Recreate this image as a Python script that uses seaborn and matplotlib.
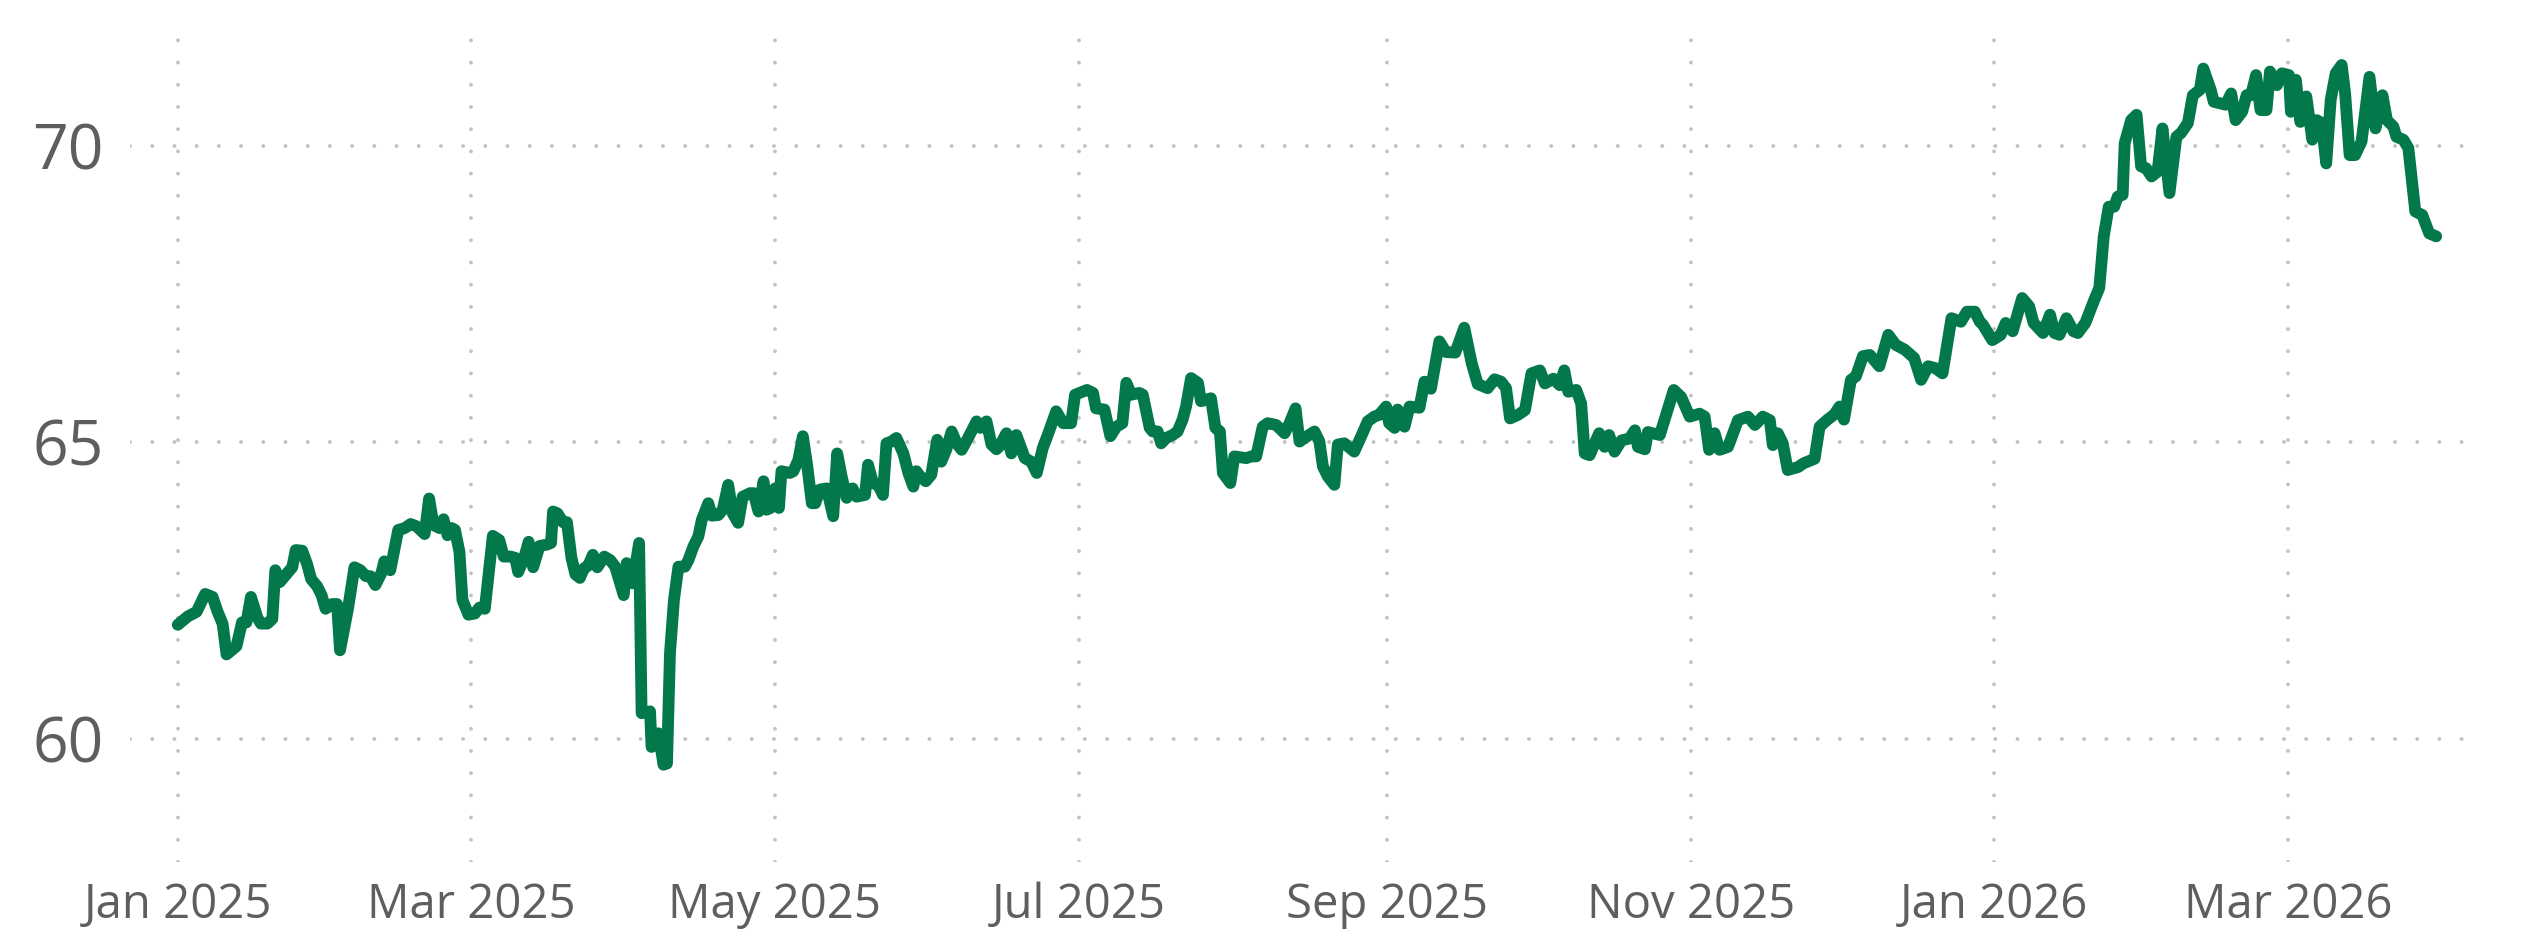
import pandas as pd
import seaborn as sns
import matplotlib.pyplot as plt
import matplotlib.dates as mdates

start = pd.Timestamp('2025-01-01')

# days after 1 Jan 2025 and the value at that point
day_offset = [
    0.0, 2.0, 3.8, 5.5, 7.0, 8.0, 9.0, 9.8, 11.8, 12.9, 13.8, 14.7, 16.0, 16.7, 18.0, 19.0,
    19.6, 20.5, 22.0, 23.0, 23.7, 25.0, 26.0, 26.8, 28.0, 28.9, 29.7, 31.0, 32.0, 32.6, 34.2,
    35.5, 36.7, 37.8, 38.7, 39.7, 40.9, 41.5, 42.7, 44.3, 45.6, 46.8, 48.0, 49.6, 50.5, 51.4,
    52.6, 53.4, 54.2, 55.1, 55.7, 56.6, 57.2, 58.4, 59.7, 60.6, 61.7, 63.3, 64.6, 65.5, 66.9,
    67.8, 68.4, 69.6, 70.5, 71.4, 72.7, 74.1, 75.0, 75.4, 76.3, 77.4, 78.2, 79.1, 79.9, 80.8,
    81.6, 82.5, 83.4, 84.3, 85.7, 86.9, 87.9, 89.6, 90.2, 91.4, 92.7, 93.2, 94.9, 95.2, 96.6,
    97.6, 98.3, 98.9, 99.7, 100.6, 101.9, 102.6, 103.6, 104.6, 105.3, 106.6, 107.3, 108.6,
    109.5, 110.6, 111.5, 112.6, 113.5, 115.0, 115.7, 116.7, 117.7, 118.3, 119.1, 120.0, 120.8,
    121.3, 123.0, 123.7, 124.7, 125.6, 126.5, 127.4, 128.1, 129.0, 130.4, 131.7, 132.5, 133.4,
    134.4, 135.6, 136.4, 138.1, 138.7, 139.7, 140.7, 141.7, 142.4, 143.4, 144.4, 145.8, 146.8,
    147.8, 148.4, 149.2, 150.3, 151.4, 152.6, 153.4, 154.4, 155.5, 156.5, 157.5, 158.8, 160.5,
    161.3, 162.5, 163.5, 164.5, 165.1, 166.5, 167.5, 168.5, 170.2, 171.5, 172.6, 173.8, 174.8,
    176.5, 177.9, 179.5, 180.3, 182.7, 183.9, 184.5, 186.2, 187.4, 188.6, 189.8, 190.6, 191.6,
    193.2, 193.9, 195.3, 195.9, 196.9, 197.6, 198.6, 199.9, 200.9, 201.9, 202.6, 203.6, 205.0,
    205.6, 207.6, 208.5, 209.4, 210.0, 211.5, 212.3, 214.7, 215.7, 216.7, 218.0, 219.0, 220.7,
    222.4, 223.4, 224.6, 225.4, 226.4, 228.4, 229.4, 230.1, 231.1, 232.4, 233.1, 234.4, 236.4,
    237.8, 239.1, 240.4, 241.4, 242.8, 243.4, 244.5, 245.1, 245.8, 246.5, 247.5, 249.5, 250.5,
    251.8, 253.5, 254.8, 256.7, 258.5, 260.0, 261.2, 263.2, 264.6, 265.9, 266.9, 267.7, 269.3,
    270.7, 272.0, 273.7, 274.7, 276.4, 277.7, 278.6, 279.4, 281.0, 282.0, 282.7, 283.7, 285.6,
    286.7, 287.6, 288.7, 290.1, 291.7, 292.8, 293.4, 294.8, 295.4, 297.8, 300.6, 302.1, 303.8,
    305.8, 306.8, 307.7, 308.8, 309.8, 311.5, 313.5, 315.5, 316.9, 318.5, 319.9, 320.5, 321.5,
    322.5, 323.5, 325.6, 326.6, 328.9, 329.9, 331.5, 332.9, 333.9, 334.8, 336.2, 337.2, 338.6,
    340.0, 341.9, 343.7, 345.2, 347.0, 348.9, 350.3, 351.7, 353.1, 354.6, 356.4, 358.3, 359.5,
    361.1, 362.1, 362.7, 364.6, 366.3, 367.3, 368.7, 370.6, 372.0, 372.9, 374.8, 376.2, 377.1,
    378.1, 379.5, 380.9, 381.8, 383.3, 385.1, 386.1, 387.0, 388.0, 389.1, 389.8, 390.8, 391.2,
    392.5, 393.6, 394.5, 395.5, 396.6, 397.8, 398.8, 400.2, 401.6, 402.5, 403.9, 404.9, 406.3,
    407.0, 408.5, 409.1, 410.5, 411.5, 412.6, 413.5, 414.8, 415.7, 416.6, 417.6, 418.5, 419.7,
    420.4, 421.8, 422.8, 424.2, 424.6, 425.6, 426.5, 427.7, 428.9, 429.8, 430.8, 431.7, 432.6,
    433.6, 434.8, 435.5, 436.4, 437.5, 438.8, 440.4, 441.6, 443.0, 443.9, 445.2, 445.8, 447.2,
    448.2, 449.6, 451.0, 452.4, 453.8,
]
price = [
    61.92, 62.06, 62.14, 62.44, 62.39, 62.14, 61.94, 61.42, 61.56, 61.96, 61.96, 62.39, 62.04,
    61.94, 61.94, 62.02, 62.84, 62.64, 62.79, 62.89, 63.18, 63.17, 62.94, 62.69, 62.57, 62.42,
    62.19, 62.27, 62.27, 61.49, 62.19, 62.89, 62.84, 62.74, 62.74, 62.59, 62.79, 62.99, 62.84,
    63.52, 63.55, 63.62, 63.58, 63.45, 64.05, 63.60, 63.55, 63.70, 63.43, 63.55, 63.52, 63.15,
    62.34, 62.09, 62.11, 62.21, 62.19, 63.42, 63.35, 63.07, 63.07, 63.05, 62.81, 63.05, 63.32,
    62.89, 63.25, 63.27, 63.30, 63.83, 63.80, 63.65, 63.65, 63.05, 62.77, 62.71, 62.87, 62.92,
    63.10, 62.89, 63.07, 63.01, 62.90, 62.42, 62.96, 62.62, 63.30, 60.43, 60.46, 59.86, 60.09,
    59.56, 59.58, 61.44, 62.34, 62.90, 62.90, 63.01, 63.24, 63.41, 63.69, 63.97, 63.76, 63.77,
    63.86, 64.28, 63.80, 63.64, 64.08, 64.14, 64.14, 63.83, 64.34, 63.86, 63.89, 64.22, 63.89,
    64.51, 64.48, 64.51, 64.70, 65.10, 64.59, 63.97, 63.97, 64.20, 64.22, 63.75, 64.81, 64.42,
    64.06, 64.22, 64.08, 64.11, 64.62, 64.31, 64.28, 64.11, 64.98, 65.01, 65.07, 64.81, 64.48,
    64.25, 64.51, 64.42, 64.34, 64.45, 65.04, 64.67, 64.87, 65.18, 64.98, 64.87, 65.07, 65.35,
    65.24, 65.35, 64.96, 64.88, 64.93, 65.15, 64.81, 65.12, 64.73, 64.67, 64.48, 64.90, 65.12,
    65.52, 65.32, 65.32, 65.80, 65.88, 65.83, 65.57, 65.55, 65.10, 65.26, 65.32, 66.00, 65.80,
    65.83, 65.80, 65.24, 65.18, 65.18, 64.98, 65.07, 65.12, 65.18, 65.38, 65.60, 66.08, 66.00,
    65.69, 65.74, 65.24, 65.18, 64.48, 64.31, 64.76, 64.73, 64.76, 64.76, 65.26, 65.32, 65.29,
    65.15, 65.32, 65.57, 65.01, 65.07, 65.18, 65.01, 64.59, 64.42, 64.28, 64.96, 64.98, 64.84,
    65.10, 65.35, 65.43, 65.46, 65.60, 65.32, 65.24, 65.55, 65.40, 65.26, 65.60, 65.58, 66.02,
    65.90, 66.70, 66.52, 66.51, 66.93, 66.33, 65.98, 65.91, 66.06, 66.02, 65.91, 65.40, 65.46,
    65.54, 66.16, 66.21, 65.99, 66.07, 65.96, 66.21, 65.85, 65.88, 65.65, 64.81, 64.78, 65.15,
    64.92, 65.12, 64.84, 65.03, 65.06, 65.20, 64.92, 64.88, 65.17, 65.12, 65.88, 65.76, 65.43,
    65.48, 65.43, 64.87, 65.15, 64.87, 64.92, 65.37, 65.43, 65.29, 65.43, 65.37, 64.95, 65.15,
    64.98, 64.53, 64.58, 64.64, 64.72, 65.26, 65.38, 65.47, 65.60, 65.38, 66.05, 66.11, 66.45,
    66.47, 66.28, 66.81, 66.64, 66.56, 66.42, 66.05, 66.28, 66.25, 66.16, 67.09, 67.03, 67.20,
    67.20, 67.03, 66.98, 66.72, 66.81, 67.01, 66.87, 67.43, 67.29, 67.01, 66.84, 67.15, 66.84,
    66.81, 67.09, 66.87, 66.84, 67.01, 67.40, 67.60, 68.47, 68.97, 68.97, 69.14, 69.17, 70.04,
    70.43, 70.52, 69.65, 69.62, 69.48, 69.56, 70.29, 69.20, 70.15, 70.21, 70.38, 70.85, 70.94,
    71.30, 70.94, 70.74, 70.71, 70.69, 70.88, 70.43, 70.57, 70.85, 70.85, 71.19, 70.60, 70.60,
    71.25, 71.02, 71.22, 71.19, 70.57, 71.11, 70.40, 70.83, 70.10, 70.43, 70.38, 69.70, 70.77,
    71.22, 71.36, 70.88, 69.84, 69.84, 70.07, 71.16, 70.29, 70.85, 70.43, 70.32, 70.15, 70.10,
    69.96, 68.89, 68.83, 68.52, 68.47,
]

tick_dates = pd.date_range('2025-01-01', '2026-03-01', freq='2MS')
y_ticks = [60, 65, 70]

df = pd.DataFrame({
    'date': start + pd.to_timedelta(day_offset, unit='D'),
    'price': price,
})

sns.set_style('white')
plt.rcParams['font.family'] = ['Open Sans', 'DejaVu Sans']

fig = plt.figure(figsize=(25.34, 9.35), dpi=100)
ax = fig.add_axes([130 / 2534, (935 - 862) / 935, 2350 / 2534, 832 / 935])

sns.lineplot(data=df, x='date', y='price', ax=ax, color='#03784b',
             linewidth=8.5, solid_capstyle='round', solid_joinstyle='round')

ax.set_xlim(start + pd.Timedelta(days=-9.6), start + pd.Timedelta(days=462.6))
ax.set_ylim(57.92, 71.95)
ax.set_xticks(tick_dates)
ax.xaxis.set_major_formatter(mdates.DateFormatter('%b %Y'))
ax.set_yticks(y_ticks)

grey = '#5e5e5e'
ax.tick_params(axis='x', length=0, pad=14, labelsize=34, labelcolor=grey)
ax.tick_params(axis='y', length=0, pad=19, labelsize=45, labelcolor=grey)

ax.set_axisbelow(True)
ax.grid(True, color='#c2c2c2', linestyle=(0, (0.01, 5.7)), linewidth=2.8,
        dash_capstyle='round')
for s in ax.spines.values():
    s.set_visible(False)
ax.set_xlabel('')
ax.set_ylabel('')

fig.savefig('out.png', dpi=100)
